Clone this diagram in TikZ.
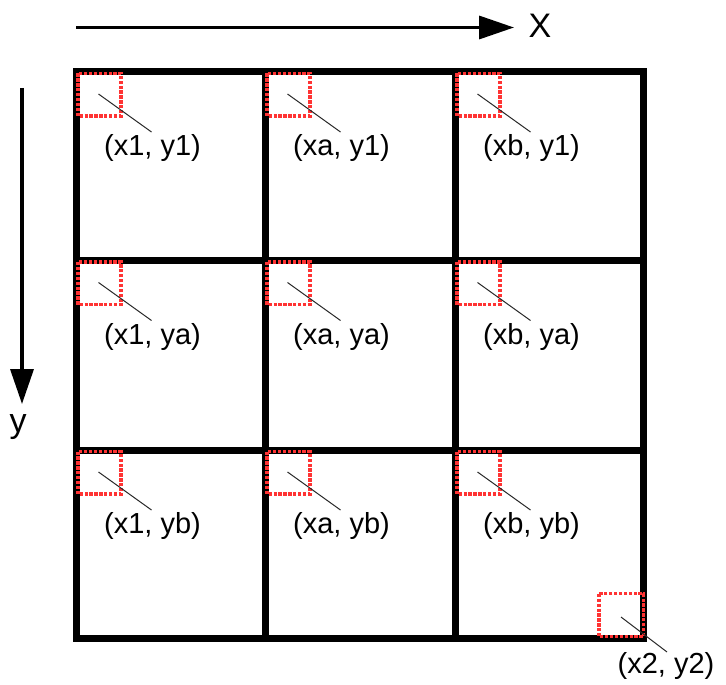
\documentclass[tikz,border=0pt]{standalone}
\usepackage{fontspec}
\setmainfont{Liberation Sans}
\usetikzlibrary{arrows.meta}
\definecolor{dotred}{RGB}{255,51,51}
\definecolor{leader}{RGB}{40,40,40}
\tikzset{
  gridline/.style={line width=7pt, line cap=rect},
  redbox/.style={draw=dotred, line width=3.2pt, dash pattern=on 3.3pt off 1.6pt},
  leaderline/.style={draw=leader, line width=1pt},
  lbl/.style={inner sep=0pt, font=\fontsize{29}{33}\selectfont},
  axis/.style={line width=3.5pt, -{Triangle[length=35pt,width=23pt]}},
  axislbl/.style={inner sep=0pt, font=\fontsize{34}{38}\selectfont}
}
\begin{document}
\begin{tikzpicture}[x=1pt,y=-1pt]
\useasboundingbox (0,0) rectangle (726,685);
% axes
\coordinate (xs) at (76,27.5);
\coordinate (xe) at (514,27.5);
\draw[axis] (xs) -- (xe);
\node[axislbl] (xl) at (540,26) {X};
\coordinate (ys) at (22,88);
\coordinate (ye) at (22,404);
\draw[axis] (ys) -- (ye);
\node[axislbl] (yl) at (18,427) {y};
% grid
\foreach \x/\n in {76.5/0,265.5/1,455.5/2,643.5/3}{
  \coordinate (v\n t) at (\x,72);
  \coordinate (v\n b) at (\x,638.3);
  \draw[gridline] (v\n t) -- (v\n b);
}
\foreach \y/\n in {72/0,260.5/1,450/2,638.3/3}{
  \coordinate (h\n l) at (76.5,\y);
  \coordinate (h\n r) at (643.5,\y);
  \draw[gridline] (h\n l) -- (h\n r);
}
% markers
\foreach \cx/\xn/\xi in {76.5/x1/0,265.5/xa/1,455.5/xb/2}{
  \foreach \cy/\yn/\yi in {72/y1/0,260.5/ya/1,450/yb/2}{
    \coordinate (c\xi\yi) at (\cx,\cy);
    \draw[redbox] ([shift={(1.5,1.5)}]c\xi\yi) rectangle ([shift={(44.5,44)}]c\xi\yi);
    \coordinate (s\xi\yi) at ([shift={(22,22)}]c\xi\yi);
    \coordinate (e\xi\yi) at ([shift={(75,60)}]c\xi\yi);
    \node[lbl] (l\xi\yi) at ([shift={(76,76)}]c\xi\yi) {(\xn, \yn)};
    \draw[leaderline] (s\xi\yi) -- (e\xi\yi);
  }
}
% bottom-right marker
\coordinate (c33) at (645,638.3);
\draw[redbox] ([shift={(-46,-44.5)}]c33) rectangle ([shift={(-1.5,-1.5)}]c33);
\coordinate (s33) at (621,617);
\coordinate (e33) at (667,652);
\draw[leaderline] (s33) -- (e33);
\node[lbl] (l33) at (666,666) {(x2, y2)};
\end{tikzpicture}
\end{document}
